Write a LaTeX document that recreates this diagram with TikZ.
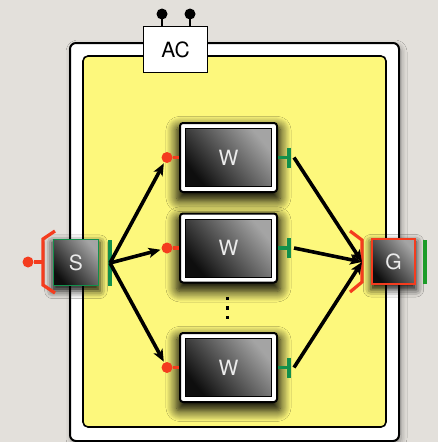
\documentclass[tikz,border=0pt]{standalone}
\usepackage{fontspec}
\setmainfont{TeX Gyre Heros}
\usetikzlibrary{arrows.meta,shadows.blur,calc}
\definecolor{paper}{HTML}{E3E0DB}
\definecolor{pad}{HTML}{FDF87C}
\definecolor{portred}{HTML}{F43C1E}
\definecolor{portgreen}{HTML}{12904C}
\definecolor{outgreen}{HTML}{1C9C28}
\definecolor{coredark}{HTML}{0E0E0E}
\definecolor{corelight}{HTML}{A4A4A4}
\tikzset{
  outerbox/.style={draw=black,line width=2pt,fill=white,rounded corners=6pt,
    blur shadow={shadow xshift=2pt,shadow yshift=-3pt,shadow blur radius=6pt,shadow opacity=40}},
  padbox/.style={draw=black,line width=1.6pt,fill=pad,rounded corners=5pt},
  acbox/.style={draw=black,line width=1.8pt,fill=white,minimum width=64pt,minimum height=46pt,
    inner sep=0pt,font=\fontsize{21}{23}\selectfont},
  wframe/.style={draw=black,line width=2pt,fill=white,rounded corners=3pt,
    minimum width=97pt,minimum height=69pt,inner sep=0pt,
    blur shadow={shadow xshift=0pt,shadow yshift=-6pt,shadow scale=1.07,
      shadow blur radius=10pt,shadow blur steps=12,shadow opacity=100}},
  core/.style={draw=black,line width=1pt,left color=coredark,right color=corelight,
    shading angle=130,text=white!92!black,inner sep=0pt,font=\fontsize{21}{23}\selectfont},
  wcore/.style={core,minimum width=86pt,minimum height=58pt},
  sbox/.style={core,draw=portgreen,line width=1.8pt,minimum width=45pt,minimum height=46pt,
    blur shadow={shadow xshift=0pt,shadow yshift=-4pt,shadow scale=1.06,shadow blur radius=7pt,shadow opacity=90}},
  gbox/.style={core,draw=portred,line width=1.8pt,minimum width=43pt,minimum height=45pt,
    blur shadow={shadow xshift=0pt,shadow yshift=-4pt,shadow scale=1.06,shadow blur radius=7pt,shadow opacity=90}},
  inport/.style={draw=portred,line width=3.2pt},
  outport/.style={draw=portgreen,line width=3.4pt},
  pinball/.style={circle,fill=#1,inner sep=0pt,minimum size=11pt},
  flow/.style={draw=black,line width=3.6pt,-{Stealth[length=12pt,width=10pt,inset=3pt]},shorten >=1pt},
  dotmark/.style={fill=black,inner sep=0pt,minimum size=3.8pt},
}
\begin{document}
\begin{tikzpicture}[x=1pt,y=-1pt]
  % paper background sets the page size
  \fill[paper] (0,0) rectangle (438,442);
  \useasboundingbox (0,0) rectangle (438,442);

  % enclosure and its working area
  \path[outerbox] (70,43) rectangle (399,441);
  \path[padbox] (83,56) rectangle (386,427);

  % AC supply block with its two pins
  \node[acbox] (ac) at (175.5,49.5) {AC};
  \foreach \px/\nm in {162/pa,190/pb}{
    \coordinate (\nm) at (\px,26);
    \draw[line width=2.6pt] (\nm) -- ++(0,-9) node[pinball=black] (\nm ball) at (\px,14) {};
  }

  % source S
  \node[sbox] (s) at (76,262.5) {S};
  \coordinate (sbarT) at (110,240);
  \coordinate (sbarB) at (110,286);
  \draw[outport] (sbarT) -- (sbarB);
  \coordinate (sport) at (110,263);
  \draw[portred,line width=3.2pt,line join=miter] (55,231) -- (43,239) -- (43,285) -- (55,293);
  \coordinate (sbrk) at (43,262);
  \node[pinball=portred] (sball) at (28,262) {};
  \draw[inport] (sbrk) -- (sball);

  % sink G
  \node[gbox] (g) at (393.5,261.5) {G};
  \draw[draw=outgreen,line width=3.4pt] (425,240) -- (425,284);
  \draw[portred,line width=3.2pt,line join=miter] (350,231) -- (362,240) -- (362,282) -- (350,292);
  \coordinate (gport) at (362,262);

  % workers
  \foreach \nm/\cy in {w1/157.5,w2/248,w3/367.5}{
    \node[wframe] (\nm) at (228.5,\cy) {};
    \node[wcore] (\nm core) at (\nm.center) {W};
    \node[pinball=portred] (\nm in) at (167,\cy) {};
    \draw[inport] (\nm in) -- (\nm.west);
    \coordinate (\nm bar) at (289,\cy);
    \draw[outport] (\nm.east) -- (\nm bar);
    \draw[outport] ($(\nm bar)+(0,-10)$) -- ($(\nm bar)+(0,10)$);
    \coordinate (\nm out) at (294,\cy);
  }

  % ellipsis between the workers
  \node[dotmark] (d1) at (227.5,298.5) {};
  \node[dotmark] (d2) at (227.5,308) {};
  \node[dotmark] (d3) at (227.5,317.5) {};

  % dispatch and collect flows
  \foreach \nm in {w1,w2,w3}{
    \draw[flow] (sport) -- (\nm in);
    \draw[flow,shorten >=0pt] (\nm out) -- (gport);
  }
\end{tikzpicture}
\end{document}
